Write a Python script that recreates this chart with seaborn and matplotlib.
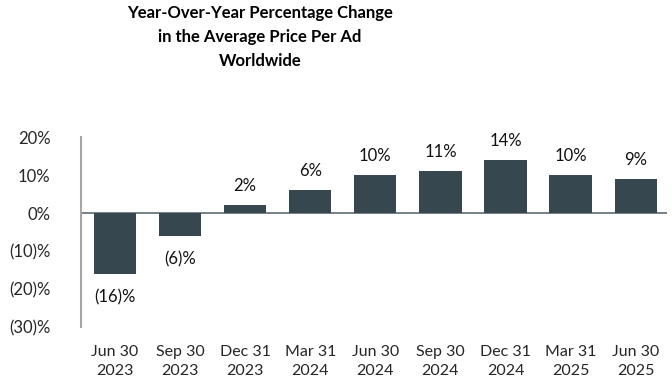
import matplotlib
matplotlib.use("Agg")
import matplotlib.pyplot as plt
import seaborn as sns
import pandas as pd

categories = ["Jun 30\n2023", "Sep 30\n2023", "Dec 31\n2023", "Mar 31\n2024", "Jun 30\n2024",
              "Sep 30\n2024", "Dec 31\n2024", "Mar 31\n2025", "Jun 30\n2025"]
values = [-16, -6, 2, 6, 10, 11, 14, 10, 9]
ytick_vals = [-30, -20, -10, 0, 10, 20]
ytick_labels = ["(30)%", "(20)%", "(10)%", "0%", "10%", "20%"]
title = "Year-Over-Year Percentage Change\nin the Average Price Per Ad\nWorldwide"

sns.set_theme(style="white")
plt.rcParams['font.family'] = ['Lato', 'DejaVu Sans']

df = pd.DataFrame({"period": categories, "value": values})

fig = plt.figure(figsize=(6.72, 3.84), dpi=100)
ax = fig.add_axes([81/672, 1-327/384, (667-81)/672, (327-137)/384])

bar_color = "#37474F"
sns.barplot(data=df, x="period", y="value", color=bar_color, width=0.65,
            saturation=1, linewidth=0, ax=ax, zorder=2)

ax.set_ylim(-30, 20)
ax.set_xlim(-0.52, 8.48)
ax.set_yticks(ytick_vals)
ax.set_yticklabels(ytick_labels, fontsize=12)
ax.tick_params(axis='x', length=0, labelsize=11.5, pad=13)
ax.tick_params(axis='y', length=0, labelsize=12, pad=22)
for t in ax.get_xticklabels():
    t.set_linespacing(1.45)
ax.set_xlabel("")
ax.set_ylabel("")

for s in ["top", "right", "bottom"]:
    ax.spines[s].set_visible(False)
ax.spines["left"].set_color("#A6A6A6")
ax.spines["left"].set_linewidth(1.5)
ax.axhline(0, color="#5F6B73", linewidth=1.2, zorder=1)

for i, v in enumerate(values):
    lbl = f"{v}%" if v >= 0 else f"({-v})%"
    if v >= 0:
        ax.annotate(lbl, (i, v), xytext=(0, 8), textcoords="offset points",
                    ha="center", va="bottom", fontsize=12, color="#111111")
    else:
        ax.annotate(lbl, (i, v), xytext=(0, -11), textcoords="offset points",
                    ha="center", va="top", fontsize=12, color="#111111")

fig.text(260/672, 1-5/384, title, ha="center", va="top", fontsize=12,
         fontweight="bold", linespacing=1.62, color="#000000")

fig.savefig("out.png", dpi=100)
